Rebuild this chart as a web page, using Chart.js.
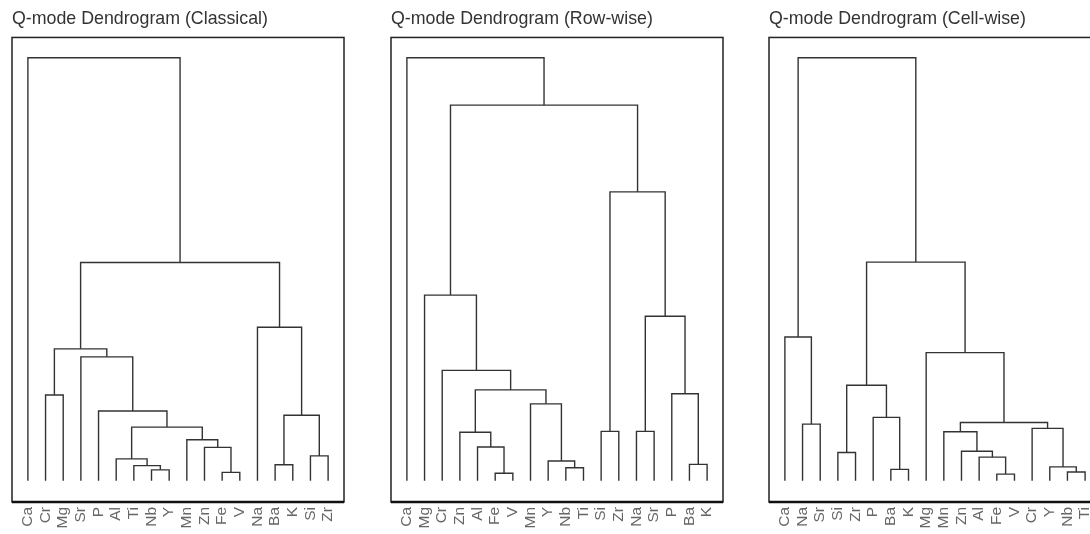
<!DOCTYPE html>
<html>
<head>
<meta charset="utf-8">
<script src="https://cdn.jsdelivr.net/npm/chart.js@4/dist/chart.umd.min.js"></script>
<style>
  body { margin: 0; width: 1090px; height: 534px; overflow: hidden; position: relative; background: #fff; }
  canvas { position: absolute; top: 0; }
</style>
</head>
<body>
<canvas id="classical" width="356" height="534" style="left:0px"></canvas>
<canvas id="rowwise" width="356" height="534" style="left:379px"></canvas>
<canvas id="cellwise" width="356" height="534" style="left:757px"></canvas>
<script>
// leaf order and merges (left, right, height) for each dendrogram
// a string is a leaf, a number points to an earlier merge
const classicalLeaves = ["Ca", "Cr", "Mg", "Sr", "P", "Al", "Ti", "Nb", "Y", "Mn", "Zn", "Fe", "V", "Na", "Ba", "K", "Si", "Zr"];
const classicalMerges = [
  ["Fe", "V", 2.0],
  ["Nb", "Y", 2.6],
  ["Ti", 1, 3.6],
  ["Ba", "K", 3.8],
  ["Al", 2, 5.2],
  ["Si", "Zr", 5.9],
  ["Zn", 0, 7.9],
  ["Mn", 6, 9.7],
  [4, 7, 12.7],
  [3, 5, 15.5],
  ["P", 8, 16.5],
  ["Cr", "Mg", 20.3],
  ["Sr", 10, 29.3],
  [11, 12, 31.2],
  ["Na", 9, 36.3],
  [13, 14, 51.6],
  ["Ca", 15, 100]
];

const rowwiseLeaves = ["Ca", "Mg", "Cr", "Zn", "Al", "Fe", "V", "Mn", "Y", "Nb", "Ti", "Si", "Zr", "Na", "Sr", "P", "Ba", "K"];
const rowwiseMerges = [
  ["Fe", "V", 1.8],
  ["Nb", "Ti", 3.1],
  ["Ba", "K", 3.9],
  ["Y", 1, 4.7],
  ["Al", 0, 8.0],
  ["Zn", 4, 11.5],
  ["Si", "Zr", 11.7],
  ["Na", "Sr", 11.7],
  ["Mn", 3, 18.2],
  ["P", 2, 20.6],
  [5, 8, 21.5],
  ["Cr", 10, 26.1],
  [7, 9, 38.9],
  ["Mg", 11, 43.9],
  [6, 12, 68.3],
  [13, 14, 88.8],
  ["Ca", 15, 100]
];

const cellwiseLeaves = ["Ca", "Na", "Sr", "Si", "Zr", "P", "Ba", "K", "Mg", "Mn", "Zn", "Al", "Fe", "V", "Cr", "Y", "Nb", "Ti"];
const cellwiseMerges = [
  ["Fe", "V", 1.6],
  ["Nb", "Ti", 2.1],
  ["Ba", "K", 2.7],
  ["Y", 1, 3.3],
  ["Al", 0, 5.6],
  ["Si", "Zr", 6.7],
  ["Zn", 4, 7.0],
  ["Mn", 6, 11.6],
  ["Cr", 3, 12.4],
  ["Na", "Sr", 13.4],
  [7, 8, 13.8],
  ["P", 2, 15.0],
  [5, 11, 22.6],
  ["Mg", 10, 30.3],
  ["Ca", 9, 34.0],
  [12, 13, 51.7],
  [14, 15, 100]
];

const panels = [
  { id: "classical", title: "Q-mode Dendrogram (Classical)", leaves: classicalLeaves, merges: classicalMerges },
  { id: "rowwise", title: "Q-mode Dendrogram (Row-wise)", leaves: rowwiseLeaves, merges: rowwiseMerges },
  { id: "cellwise", title: "Q-mode Dendrogram (Cell-wise)", leaves: cellwiseLeaves, merges: cellwiseMerges }
];

const FONT = "'Liberation Sans', Arial, sans-serif";

// one U-shaped line per merge
function buildSegments(leaves, merges) {
  const mx = [];
  const posOf = (ref) => (typeof ref === "string" ? leaves.indexOf(ref) + 1 : mx[ref]);
  const heightOf = (ref) => (typeof ref === "string" ? 0 : merges[ref][2]);
  return merges.map(([a, b, h]) => {
    const xa = posOf(a), xb = posOf(b);
    mx.push((xa + xb) / 2);
    return {
      data: [
        { x: xa, y: heightOf(a) },
        { x: xa, y: h },
        { x: xb, y: h },
        { x: xb, y: heightOf(b) }
      ],
      showLine: true,
      borderColor: "#333",
      borderWidth: 1.4,
      pointRadius: 0,
      tension: 0,
      fill: false
    };
  });
}

const frame = {
  id: "frame",
  afterDraw(chart) {
    const { ctx, chartArea: a } = chart;
    ctx.save();
    ctx.strokeStyle = "#222";
    ctx.lineWidth = 1.5;
    ctx.strokeRect(a.left, a.top, a.right - a.left, a.bottom - a.top);
    ctx.lineWidth = 2.5;
    ctx.strokeStyle = "#111";
    ctx.beginPath();
    ctx.moveTo(a.left, a.bottom);
    ctx.lineTo(a.right, a.bottom);
    ctx.stroke();
    ctx.restore();
  }
};

panels.forEach((p) => {
  const ctx = document.getElementById(p.id).getContext("2d");
  new Chart(ctx, {
    type: "scatter",
    data: { datasets: buildSegments(p.leaves, p.merges) },
    options: {
      responsive: false,
      animation: false,
      events: [],
      layout: { padding: { left: 12, right: 12, top: 0, bottom: 0 } },
      scales: {
        x: {
          type: "linear",
          min: 0.1,
          max: 18.9,
          grid: { display: false, drawTicks: false },
          border: { display: false },
          afterBuildTicks: (scale) => {
            scale.ticks = p.leaves.map((_, i) => ({ value: i + 1 }));
          },
          afterFit: (scale) => {
            scale.height = 32;
          },
          ticks: {
            autoSkip: false,
            minRotation: 90,
            maxRotation: 90,
            padding: 5,
            color: "#666",
            font: { size: 15.5, family: FONT },
            callback: (v) => p.leaves[v - 1]
          }
        },
        y: {
          display: false,
          min: -5,
          max: 104.8
        }
      },
      plugins: {
        legend: { display: false },
        tooltip: { enabled: false },
        title: {
          display: true,
          text: p.title,
          align: "start",
          color: "#333",
          font: { size: 17.8, weight: "normal", family: FONT },
          padding: { top: 8.8, bottom: 7.3 }
        }
      }
    },
    plugins: [frame]
  });
});
</script>
</body>
</html>
